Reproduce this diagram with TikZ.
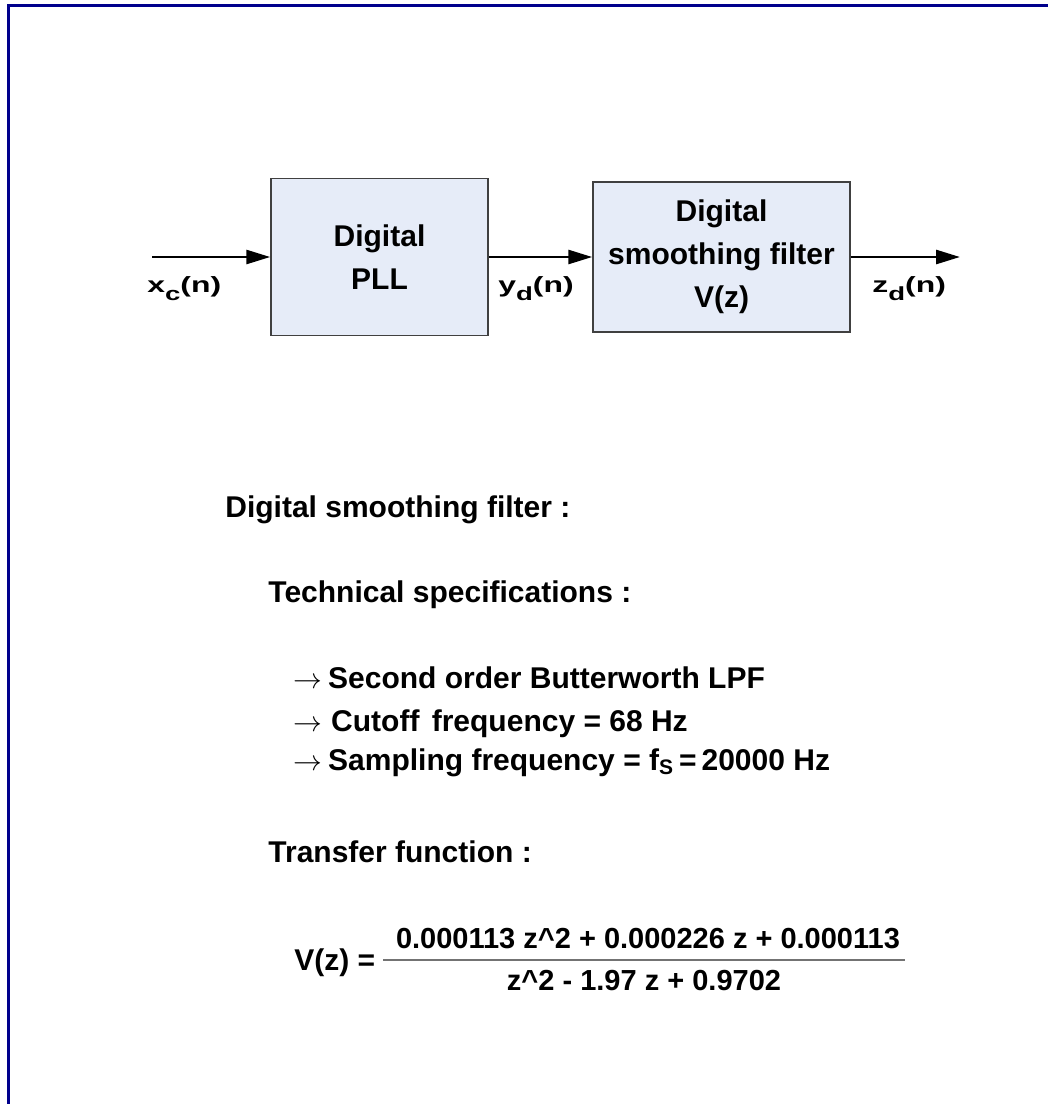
\documentclass[tikz,border=0pt]{standalone}
\usepackage{fontspec}
\setmainfont{Liberation Sans}
\newfontfamily\sigfont[FakeStretch=1.45]{Liberation Sans}
\usetikzlibrary{arrows.meta}
\definecolor{framenavy}{RGB}{0,0,140}
\definecolor{blockfill}{RGB}{230,236,248}
\newcommand\sigsub[1]{\raisebox{-4pt}{\fontsize{9.5}{10}\selectfont #1}}
\tikzset{
  block/.style={draw=black!75, line width=0.75pt, fill=blockfill, align=center,
    font=\fontsize{15}{21.5}\selectfont\bfseries},
  sig/.style={line width=1.35pt, -{Triangle[length=12pt,width=7pt]}},
  siglabel/.style={anchor=base west, inner sep=0pt, font=\sigfont\fontsize{11}{13}\selectfont\bfseries},
  txt/.style={anchor=base west, inner sep=0pt, font=\fontsize{15}{17}\selectfont\bfseries},
  eq/.style={anchor=base, inner sep=0pt, font=\fontsize{14.5}{16}\selectfont\bfseries},
}
\begin{document}
\begin{tikzpicture}[x=0.5pt,y=-0.5pt]
\useasboundingbox (0,0) rectangle (1048,1104);
% frame
\draw[framenavy, line width=1.5pt] (8,1104) -- (8,5.5) -- (1048,5.5);
% blocks
\node[block, minimum width=108.5pt, minimum height=78.5pt] (pll) at (379.5,257) {Digital\\PLL};
\node[block, minimum width=128.5pt, minimum height=75pt] (smooth) at (721.5,257) {Digital\\smoothing filter\\V(z)};
\coordinate (in) at (152,257);
\coordinate (out) at (960,257);
\draw[sig] (in) -- (pll.west);
\draw[sig] (pll.east) -- (smooth.west);
\draw[sig] (smooth.east) -- (out);
% signals
\node[siglabel] (xc) at (147,292) {x\sigsub{c}(n)};
\node[siglabel] (yd) at (498,292) {y\sigsub{d}(n)};
\node[siglabel] (zd) at (872,292) {z\sigsub{d}(n)};
% specifications
\node[txt] (head) at (225,517) {Digital smoothing filter :};
\node[txt] (tech) at (268,602) {Technical specifications :};
\node[txt] (lpf) at (293,688) {$\rightarrow$\hspace{3pt}Second order Butterworth LPF};
\node[txt] (cut) at (293,731) {$\rightarrow$\hspace{4.5pt}Cutoff\hspace{2pt} frequency = 68 Hz};
\node[txt] (samp) at (293,770) {$\rightarrow$\hspace{3pt}Sampling frequency = f\textsubscript{S}\,=\,20000 Hz};
% transfer function
\node[txt] (tf) at (268,862) {Transfer function :};
\node[txt] (vz) at (294,970) {V(z) =};
\node[eq] (num) at (648,948) {0.000113 z\textasciicircum2 + 0.000226 z + 0.000113};
\node[eq] (den) at (644,990) {z\textasciicircum2 - 1.97 z + 0.9702};
\coordinate (barl) at (383,960);
\coordinate (barr) at (905,960);
\draw[black!55, line width=0.75pt] (barl) -- (barr);
\end{tikzpicture}
\end{document}
